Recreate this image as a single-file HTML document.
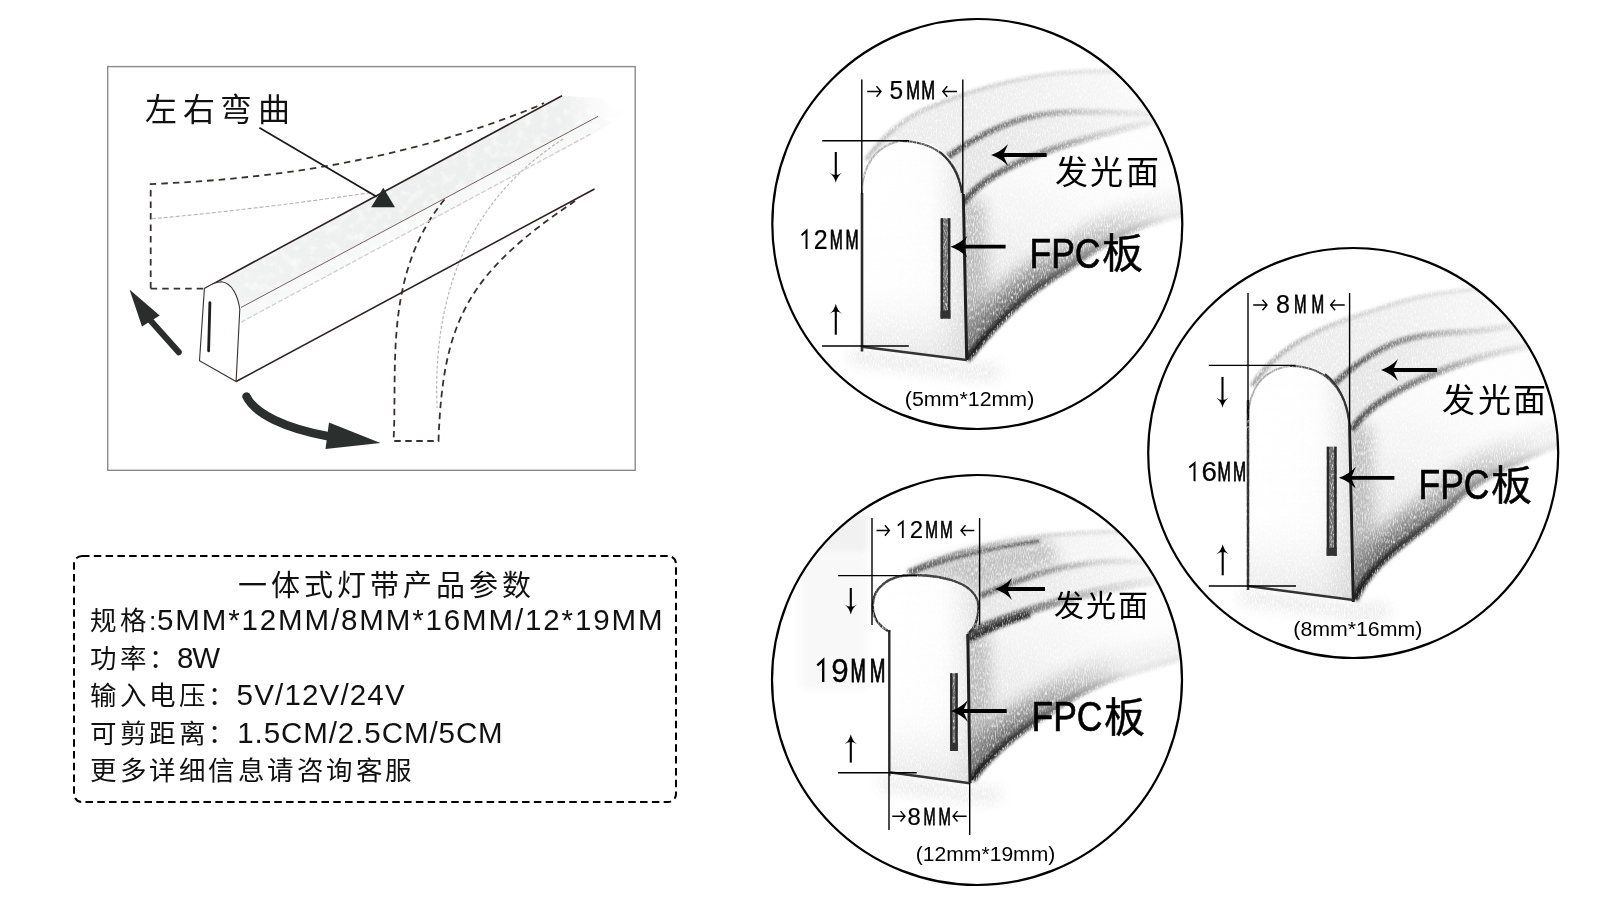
<!DOCTYPE html>
<html lang="zh-CN">
<head>
<meta charset="utf-8">
<style>
html,body{margin:0;padding:0;background:#fff;width:1600px;height:900px;overflow:hidden;}
svg{display:block;font-family:"Liberation Sans",sans-serif;will-change:transform;}
</style>
</head>
<body>
<svg width="1600" height="900" viewBox="0 0 1600 900">
<defs>
<linearGradient id="bandFade" x1="0" y1="0" x2="1" y2="0" gradientUnits="objectBoundingBox">
<stop offset="0" stop-color="#f1f2f2"/>
<stop offset="0.5" stop-color="#edefef"/>
<stop offset="0.85" stop-color="#eeefef"/>
<stop offset="1" stop-color="#f8f8f8" stop-opacity="0"/>
</linearGradient>
<filter id="pencil" filterUnits="userSpaceOnUse" x="0" y="0" width="1600" height="900">
<feTurbulence type="fractalNoise" baseFrequency="0.8 0.3" numOctaves="2" seed="7" result="n"/>
<feColorMatrix in="n" type="matrix" values="0 0 0 0 0  0 0 0 0 0  0 0 0 0 0  -2.2 0 0 0 2.0" result="a"/>
<feComposite in="SourceGraphic" in2="a" operator="in"/>
</filter>
<filter id="softpencil" filterUnits="userSpaceOnUse" x="0" y="0" width="1600" height="900">
<feGaussianBlur in="SourceGraphic" stdDeviation="1.5" result="b"/>
<feTurbulence type="fractalNoise" baseFrequency="0.8 0.3" numOctaves="2" seed="3" result="n"/>
<feColorMatrix in="n" type="matrix" values="0 0 0 0 0  0 0 0 0 0  0 0 0 0 0  -2.2 0 0 0 2.0" result="a"/>
<feComposite in="b" in2="a" operator="in"/>
</filter>
<filter id="blotch" filterUnits="userSpaceOnUse" x="0" y="0" width="1600" height="900">
<feTurbulence type="fractalNoise" baseFrequency="0.12" numOctaves="2" seed="11" result="n"/>
<feColorMatrix in="n" type="matrix" values="0 0 0 0 0  0 0 0 0 0  0 0 0 0 0  -1.6 0 0 0 1.75" result="a"/>
<feComposite in="SourceGraphic" in2="a" operator="in"/>
</filter>
<filter id="blurpencil" filterUnits="userSpaceOnUse" x="0" y="0" width="1600" height="900">
<feGaussianBlur in="SourceGraphic" stdDeviation="7" result="b"/>
<feTurbulence type="fractalNoise" baseFrequency="0.9 0.25" numOctaves="2" seed="5" result="n"/>
<feColorMatrix in="n" type="matrix" values="0 0 0 0 0  0 0 0 0 0  0 0 0 0 0  -2.4 0 0 0 2.0" result="a"/>
<feComposite in="b" in2="a" operator="in"/>
</filter>
<filter id="blur3" filterUnits="userSpaceOnUse" x="0" y="0" width="1600" height="900">
<feGaussianBlur stdDeviation="3"/>
</filter>
<filter id="gray" filterUnits="userSpaceOnUse" x="0" y="0" width="1600" height="900">
<feColorMatrix type="saturate" values="0"/>
</filter>
</defs>
<rect x="0" y="0" width="1600" height="900" fill="#fff"/>
<!-- ============ LEFT FRAME ============ -->
<g id="leftsketch">
<rect x="107.7" y="66.6" width="527.5" height="403.7" fill="none" stroke="#8a8a8a" stroke-width="1.4"/>
<text x="145" y="120.8" font-size="32" fill="#111" textLength="145" lengthAdjust="spacing">左右弯曲</text>

<!-- strip top surface light band -->
<path d="M204.4,288.6 L562,95.7 L600,98 L628,116 L598,119 L241,309 Z" fill="url(#bandFade)" filter="url(#blotch)"/>
<path d="M241,307.5 L598,116.4 L612,122 L592,135 L241,322.2 Z" fill="#f7f8f8" filter="url(#blotch)"/>
<!-- faint bend middle line (upper) -->
<path d="M152,218.7 C230,212 320,200 372,192.5" fill="none" stroke="#b9b2b2" stroke-width="1.1" stroke-dasharray="4 2"/>
<!-- dashed upper bend outline -->
<path d="M150.7,288.6 L150.7,184 C303.7,178 427.3,151.3 538.4,105.8 L544,103" fill="none" stroke="#3b3030" stroke-width="1.8" stroke-dasharray="6.5 5"/>
<path d="M150.7,288.6 L204.4,288.6" fill="none" stroke="#3b3030" stroke-width="1.8" stroke-dasharray="6.5 5"/>
<!-- dotted lower bend middle -->
<path d="M563,139 C482.9,190.9 431.9,273.9 437,408" fill="none" stroke="#bdb6b6" stroke-width="1.2" stroke-dasharray="3 2"/>
<!-- dashed lower bend outline -->
<path d="M444.5,199.5 C383.2,274.4 397.6,368.1 393.5,441 L438.5,441 C442.6,319.4 469,272.5 575,201" fill="none" stroke="#3b3030" stroke-width="1.8" stroke-dasharray="6.5 4.5"/>

<!-- strip lines -->
<path d="M204.4,288.6 L562,95.7" stroke="#2e2222" stroke-width="1.6" fill="none"/>
<path d="M241,307.5 L598,116.4" stroke="#7a6262" stroke-width="1" fill="none"/>
<path d="M241,322.2 L592,133.3" stroke="#d4cfcf" stroke-width="1.3" fill="none" stroke-dasharray="5 2"/>
<path d="M236.1,381.5 L594.5,189" stroke="#2e2222" stroke-width="1.6" fill="none"/>

<!-- end face -->
<path d="M204.4,288.6 C210,285 215,282 221.5,281.8 C232,283 238,296 239.8,309.3 L236.1,381.5 L199.5,360.7 Z" fill="#fff" stroke="#3a3030" stroke-width="1.1"/>
<path d="M209.9,302.6 L208.6,350.9" stroke="#1e1e1e" stroke-width="2.8" stroke-linecap="round"/>

<!-- pointer -->
<path d="M259.4,127.8 L376.7,196.7" stroke="#1b1b1b" stroke-width="1.8"/>
<path d="M383.3,187.8 L395,207.2 L371.1,207.2 Z" fill="#262a29"/>

<!-- up-left arrow -->
<path d="M129.5,289.5 L159.7,315.5 L142,326.5 Z" fill="#2b2d2d"/>
<path d="M150.5,320.5 L178.7,352.1" stroke="#2b2d2d" stroke-width="6.2" stroke-linecap="round"/>

<!-- curved arrow -->
<path d="M246.5,396.5 C255,414 285,428 327,436" fill="none" stroke="#2b2f2e" stroke-width="8.5" stroke-linecap="round"/>
<path d="M329,422.5 L380.5,443 L325.5,449 Z" fill="#2b2f2e"/>
</g>

<!-- ============ DASHED BOX ============ -->
<g id="box">
<rect x="74" y="556" width="602" height="246" rx="8" ry="8" fill="none" stroke="#000" stroke-width="2" stroke-dasharray="7.5 4.3"/>
<g font-size="26.5" fill="#111" letter-spacing="3.5">
<text x="238" y="596" font-size="29" textLength="292.5" lengthAdjust="spacing" letter-spacing="0">一体式灯带产品参数</text>
<text x="90" y="630">规格:</text>
<text x="157" y="630" font-size="29.5" letter-spacing="0" textLength="505.5" lengthAdjust="spacing">5MM*12MM/8MM*16MM/12*19MM</text>
<text x="90" y="667.5">功率：</text>
<text x="177" y="667.5" font-size="29.5" letter-spacing="0" textLength="43" lengthAdjust="spacing">8W</text>
<text x="90" y="705">输入电压：</text>
<text x="236.6" y="705" font-size="29.5" letter-spacing="0" textLength="168" lengthAdjust="spacing">5V/12V/24V</text>
<text x="90" y="742.5">可剪距离：</text>
<text x="237.2" y="742.5" font-size="29.5" letter-spacing="0" textLength="265.5" lengthAdjust="spacing">1.5CM/2.5CM/5CM</text>
<text x="90" y="779.5">更多详细信息请咨询客服</text>
</g>
</g>

<!-- ============ CIRCLES ============ -->
<clipPath id="clip1"><circle cx="977.3" cy="224" r="204"/></clipPath>
<radialGradient id="side1" cx="966.7" cy="360" r="230" gradientUnits="userSpaceOnUse"><stop offset="0" stop-color="#8c8c8c"/><stop offset="0.3" stop-color="#bdbdbd"/><stop offset="0.65" stop-color="#e2e2e2"/><stop offset="1" stop-color="#fafafa"/></radialGradient>
<linearGradient id="edge1" x1="966.7" y1="360" x2="1165" y2="215" gradientUnits="userSpaceOnUse"><stop offset="0" stop-color="#1a1a1a"/><stop offset="0.4" stop-color="#4a4a4a"/><stop offset="0.75" stop-color="#a8a8a8"/><stop offset="1" stop-color="#e8e8e8"/></linearGradient>
<linearGradient id="arc1" x1="963" y1="203" x2="1165" y2="120" gradientUnits="userSpaceOnUse"><stop offset="0" stop-color="#505050"/><stop offset="0.4" stop-color="#8a8a8a"/><stop offset="0.7" stop-color="#cfcfcf"/><stop offset="1" stop-color="#f0f0f0"/></linearGradient>
<linearGradient id="facev1" x1="0" y1="0" x2="0" y2="1"><stop offset="0" stop-color="#fff" stop-opacity="0"/><stop offset="0.65" stop-color="#e8e8e8" stop-opacity="0.05"/><stop offset="1" stop-color="#cccccc" stop-opacity="0.5"/></linearGradient>
<linearGradient id="faceh1" x1="0" y1="0" x2="1" y2="0"><stop offset="0" stop-color="#fff" stop-opacity="0"/><stop offset="0.65" stop-color="#e0e0e0" stop-opacity="0.08"/><stop offset="1" stop-color="#c8c8c8" stop-opacity="0.6"/></linearGradient>
<linearGradient id="fadeR1" x1="963" y1="0" x2="1182.3" y2="0" gradientUnits="userSpaceOnUse"><stop offset="0" stop-color="#e4e4e4"/><stop offset="0.5" stop-color="#eeeeee"/><stop offset="1" stop-color="#fbfbfb"/></linearGradient>
<linearGradient id="fadeR21" x1="963" y1="0" x2="1182.3" y2="0" gradientUnits="userSpaceOnUse"><stop offset="0" stop-color="#ececec"/><stop offset="0.5" stop-color="#f3f3f3"/><stop offset="1" stop-color="#fdfdfd"/></linearGradient>
<g clip-path="url(#clip1)">
<path d="M870,151 C926.9,92.8 1012.4,75.2 1083,71.6 C1120,70 1160,72 1190,76 L1190,114 L1160.7,114 C1074.3,113.1 1028.8,98.7 947.5,157 Z" fill="url(#fadeR21)" filter="url(#pencil)"/>
<path d="M947.5,157 C1028.8,98.7 1074.3,113.1 1160.7,114 L1190,114 L1190,118 L1151,122 C1084.8,137.6 992.3,160.7 963,203.4 Z" fill="url(#fadeR1)" filter="url(#pencil)"/>
<clipPath id="sideclip1"><path d="M963,203.4 C992.3,160.7 1084.8,137.6 1151,122 L1190,118 L1190,212 L1170,216.7 C1134.2,225.2 1099.4,244 1068.3,267.4 C1028.2,289.8 994.1,324.2 966.5,359.9 Z"/></clipPath>
<path d="M963,203.4 C992.3,160.7 1084.8,137.6 1151,122 L1190,118 L1190,212 L1170,216.7 C1134.2,225.2 1099.4,244 1068.3,267.4 C1028.2,289.8 994.1,324.2 966.5,359.9 Z" fill="url(#side1)" opacity="0.4" filter="url(#pencil)"/>
<g clip-path="url(#sideclip1)">
<path d="M966.5,359.9 C994.1,324.2 1028.2,289.8 1068.3,267.4 C1099.4,244 1134.2,225.2 1170,216.7 L1190,212" fill="none" stroke="url(#edge1)" stroke-width="52" opacity="0.42" filter="url(#blurpencil)"/>
<path d="M966.5,359.9 C994.1,324.2 1028.2,289.8 1068.3,267.4 C1099.4,244 1134.2,225.2 1170,216.7 L1190,212" fill="none" stroke="url(#edge1)" stroke-width="26" opacity="0.5" filter="url(#blurpencil)"/>
<path d="M963,200 L966.7,360" fill="none" stroke="#8a8a8a" stroke-width="44" opacity="0.5" filter="url(#blurpencil)"/>
</g>
<linearGradient id="arcA1" x1="866" y1="160" x2="1180" y2="74" gradientUnits="userSpaceOnUse"><stop offset="0" stop-color="#bdbdbd"/><stop offset="0.35" stop-color="#d0d0d0"/><stop offset="1" stop-color="#eeeeee"/></linearGradient>
<path d="M866,160 C880,140 900,120 928,108 C980,86 1030,74 1083,71.6 C1120,70 1150,71 1180,74" fill="none" stroke="url(#arcA1)" stroke-width="4.5" filter="url(#softpencil)"/>
<path d="M947.5,157 C1028.8,98.7 1074.3,113.1 1160.7,114 L1190,114" fill="none" stroke="url(#arc1)" stroke-width="6" filter="url(#softpencil)"/>
<path d="M963,203.4 C992.3,160.7 1084.8,137.6 1151,122 L1190,116" fill="none" stroke="url(#arc1)" stroke-width="7" filter="url(#softpencil)"/>
<path d="M963,203.4 C992.3,160.7 1084.8,137.6 1151,122 L1190,116" fill="none" stroke="url(#arc1)" stroke-width="1.2" opacity="0.8"/>
<path d="M966.5,359.9 C994.1,324.2 1028.2,289.8 1068.3,267.4 C1099.4,244 1134.2,225.2 1170,216.7 L1190,212" fill="none" stroke="url(#edge1)" stroke-width="8" filter="url(#softpencil)"/>
<path d="M966.5,359.9 C994.1,324.2 1028.2,289.8 1068.3,267.4 C1099.4,244 1134.2,225.2 1170,216.7 L1190,212" fill="none" stroke="url(#edge1)" stroke-width="1.8"/>
<path d="M850,356 L970,372 L1000,372" fill="none" stroke="#dcdcdc" stroke-width="16" opacity="0.6" filter="url(#blurpencil)"/>
<path d="M862,193 C862,160 884,141 912,141 C940,141 961,162 963,193 L966.7,360 L862,347 Z" fill="#fff"/>
<path d="M862,193 C862,160 884,141 912,141 C940,141 961,162 963,193 L966.7,360 L862,347 Z" fill="url(#facev1)" filter="url(#pencil)"/>
<path d="M862,193 C862,160 884,141 912,141 C940,141 961,162 963,193 L966.7,360 L862,347 Z" fill="url(#faceh1)" filter="url(#pencil)"/>
<path d="M862,193 C862,166 876,146 898,141.5" fill="none" stroke="#b0b0b0" stroke-width="2" filter="url(#pencil)"/>
<path d="M900,141 C935,141 958,160 962,193" fill="none" stroke="#4a4a4a" stroke-width="2.2" filter="url(#pencil)"/>
<path d="M940,152 C952,162 959,175 962,193" fill="none" stroke="#333" stroke-width="2"/>
<path d="M862,193 L862,351.6" stroke="#2a2a2a" stroke-width="2.6"/>
<path d="M963.3,194 L966.7,360" stroke="#1e1e1e" stroke-width="3"/>
<path d="M862,346.7 L966.7,360" stroke="#333" stroke-width="2.4"/>
<rect x="940.6" y="218.3" width="9.8" height="100.3" fill="#6e6e6e" filter="url(#pencil)"/>
<path d="M941.9,218.3 L941.9,318.6 M949.1,218.3 L949.1,318.6" stroke="#2a2a2a" stroke-width="2.4"/>
<path d="M940.6,314.6 L950.4,314.6" stroke="#333" stroke-width="8.0"/>
</g>
<g stroke="#000" stroke-width="1.4" fill="none">
<path d="M861.8,79.6 L861.8,194"/>
<path d="M962.8,79.6 L962.8,194.4"/>
<path d="M822.2,140.8 L908.9,140.8"/>
<path d="M822,346 L908.8,346"/>
<path d="M867.2,91.5 L881.0,91.5 M876.5,86.3 L881.0,91.5 L876.5,96.7"/>
<path d="M942.8,91.5 L957.0,91.5 M947.3,86.3 L942.8,91.5 L947.3,96.7"/>
<path d="M835.8,152.0 L835.8,178.8" stroke-width="2.1"/><path d="M829.7,172.8 Q834.3,176.3 835.8,182.8 Q837.3,176.3 841.9,172.8 Q835.8,177.3 829.7,172.8 Z" fill="#000" stroke="none"/>
<path d="M835.8,307.7 L835.8,334.7" stroke-width="2.1"/><path d="M829.7,313.7 Q834.3,310.2 835.8,303.7 Q837.3,310.2 841.9,313.7 Q835.8,309.2 829.7,313.7 Z" fill="#000" stroke="none"/>
</g>
<g fill="#000">
<text transform="translate(896.25,99.00) scale(0.931,1)" font-size="26.38" text-anchor="middle" stroke="#000" stroke-width="0.22">5</text>
<text transform="translate(913.12,99.00) scale(0.626,1)" font-size="26.38" text-anchor="middle" stroke="#000" stroke-width="0.81">M</text>
<text transform="translate(928.24,99.00) scale(0.629,1)" font-size="26.38" text-anchor="middle" stroke="#000" stroke-width="0.80">M</text>
<path d="M801.59,235.31 L806.52,230.84 L806.52,249.00" fill="none" stroke="#000" stroke-width="1.97" stroke-linejoin="miter"/>
<text transform="translate(820.75,249.00) scale(0.920,1)" font-size="27.17" text-anchor="middle" stroke="#000" stroke-width="0.23">2</text>
<text transform="translate(836.28,249.00) scale(0.577,1)" font-size="27.17" text-anchor="middle" stroke="#000" stroke-width="0.90">M</text>
<text transform="translate(852.03,249.00) scale(0.577,1)" font-size="27.17" text-anchor="middle" stroke="#000" stroke-width="0.90">M</text>
<text x="1054.5" y="184.2" font-size="33" textLength="104.5" lengthAdjust="spacing">发光面</text>
<text x="1029.5" y="267.7" font-size="43" textLength="71" lengthAdjust="spacingAndGlyphs" stroke="#000" stroke-width="0.7">FPC</text>
<text x="1101.5" y="268" font-size="41" stroke="#000" stroke-width="0.5">板</text>
<text x="904.8" y="405.5" font-size="20" textLength="129.5" lengthAdjust="spacingAndGlyphs">(5mm*12mm)</text>
</g>
<path d="M991.1,155.0 Q1001.1,151.5 1008.1,144.0 L1004.1,153.1 L1046.7,153.1 L1046.7,156.9 L1004.1,156.9 L1008.1,166.0 Q1001.1,158.5 991.1,155.0 Z" fill="#000"/>
<path d="M950.4,246.7 Q960.4,243.2 967.4,235.7 L963.4,244.8 L1005.6,244.8 L1005.6,248.6 L963.4,248.6 L967.4,257.7 Q960.4,250.2 950.4,246.7 Z" fill="#000"/>
<circle cx="977.3" cy="224" r="205" fill="none" stroke="#000" stroke-width="2.2"/>
<clipPath id="clip2"><circle cx="1353.2" cy="453" r="204"/></clipPath>
<radialGradient id="side2" cx="1353.3" cy="597.8" r="240" gradientUnits="userSpaceOnUse"><stop offset="0" stop-color="#8c8c8c"/><stop offset="0.3" stop-color="#bdbdbd"/><stop offset="0.65" stop-color="#e2e2e2"/><stop offset="1" stop-color="#fafafa"/></radialGradient>
<linearGradient id="edge2" x1="1353.3" y1="597.8" x2="1545" y2="450" gradientUnits="userSpaceOnUse"><stop offset="0" stop-color="#1a1a1a"/><stop offset="0.4" stop-color="#4a4a4a"/><stop offset="0.75" stop-color="#a8a8a8"/><stop offset="1" stop-color="#e8e8e8"/></linearGradient>
<linearGradient id="arc2" x1="1352" y1="430" x2="1545" y2="340" gradientUnits="userSpaceOnUse"><stop offset="0" stop-color="#505050"/><stop offset="0.4" stop-color="#8a8a8a"/><stop offset="0.7" stop-color="#cfcfcf"/><stop offset="1" stop-color="#f0f0f0"/></linearGradient>
<linearGradient id="facev2" x1="0" y1="0" x2="0" y2="1"><stop offset="0" stop-color="#fff" stop-opacity="0"/><stop offset="0.65" stop-color="#e8e8e8" stop-opacity="0.05"/><stop offset="1" stop-color="#cccccc" stop-opacity="0.5"/></linearGradient>
<linearGradient id="faceh2" x1="0" y1="0" x2="1" y2="0"><stop offset="0" stop-color="#fff" stop-opacity="0"/><stop offset="0.65" stop-color="#e0e0e0" stop-opacity="0.08"/><stop offset="1" stop-color="#c8c8c8" stop-opacity="0.6"/></linearGradient>
<linearGradient id="fadeR2" x1="1352" y1="0" x2="1558.2" y2="0" gradientUnits="userSpaceOnUse"><stop offset="0" stop-color="#e4e4e4"/><stop offset="0.5" stop-color="#eeeeee"/><stop offset="1" stop-color="#fbfbfb"/></linearGradient>
<linearGradient id="fadeR22" x1="1352" y1="0" x2="1558.2" y2="0" gradientUnits="userSpaceOnUse"><stop offset="0" stop-color="#ececec"/><stop offset="0.5" stop-color="#f3f3f3"/><stop offset="1" stop-color="#fdfdfd"/></linearGradient>
<g clip-path="url(#clip2)">
<path d="M1252,386 C1283.4,335.1 1345.4,319.3 1400,302 C1440,290 1500,285 1570,288 L1570,322 L1510,326 C1442.5,340.6 1404.5,317.7 1334,384 Z" fill="url(#fadeR22)" filter="url(#pencil)"/>
<path d="M1334,384 C1404.5,317.7 1442.5,340.6 1510,326 L1570,322 L1570,340 L1530,346 C1466.1,356.5 1375.1,390.8 1352,430 Z" fill="url(#fadeR2)" filter="url(#pencil)"/>
<clipPath id="sideclip2"><path d="M1352,430 C1375.1,390.8 1466.1,356.5 1530,346 L1570,340 L1570,440 L1546,449 C1512,463.9 1473.9,478.8 1451,504.5 C1411.8,539.3 1372.2,558.8 1354.3,599.9 Z"/></clipPath>
<path d="M1352,430 C1375.1,390.8 1466.1,356.5 1530,346 L1570,340 L1570,440 L1546,449 C1512,463.9 1473.9,478.8 1451,504.5 C1411.8,539.3 1372.2,558.8 1354.3,599.9 Z" fill="url(#side2)" opacity="0.4" filter="url(#pencil)"/>
<g clip-path="url(#sideclip2)">
<path d="M1354.3,599.9 C1372.2,558.8 1411.8,539.3 1451,504.5 C1473.9,478.8 1512,463.9 1546,449 L1570,440" fill="none" stroke="url(#edge2)" stroke-width="52" opacity="0.42" filter="url(#blurpencil)"/>
<path d="M1354.3,599.9 C1372.2,558.8 1411.8,539.3 1451,504.5 C1473.9,478.8 1512,463.9 1546,449 L1570,440" fill="none" stroke="url(#edge2)" stroke-width="26" opacity="0.5" filter="url(#blurpencil)"/>
<path d="M1349.6,425 L1353.3,600" fill="none" stroke="#8a8a8a" stroke-width="44" opacity="0.5" filter="url(#blurpencil)"/>
</g>
<linearGradient id="arcA2" x1="1252" y1="386" x2="1560" y2="288" gradientUnits="userSpaceOnUse"><stop offset="0" stop-color="#a0a0a0"/><stop offset="0.35" stop-color="#d0d0d0"/><stop offset="1" stop-color="#eeeeee"/></linearGradient>
<path d="M1252,386 C1283.4,335.1 1345.4,319.3 1400,302 C1440,290 1500,285 1560,288" fill="none" stroke="url(#arcA2)" stroke-width="4.5" filter="url(#softpencil)"/>
<path d="M1334,384 C1404.5,317.7 1442.5,340.6 1510,326 L1570,320" fill="none" stroke="url(#arc2)" stroke-width="6" filter="url(#softpencil)"/>
<path d="M1352,430 C1375.1,390.8 1466.1,356.5 1530,346 L1570,340" fill="none" stroke="url(#arc2)" stroke-width="7" filter="url(#softpencil)"/>
<path d="M1352,430 C1375.1,390.8 1466.1,356.5 1530,346 L1570,340" fill="none" stroke="url(#arc2)" stroke-width="1.2" opacity="0.8"/>
<path d="M1354.3,599.9 C1372.2,558.8 1411.8,539.3 1451,504.5 C1473.9,478.8 1512,463.9 1546,449 L1570,440" fill="none" stroke="url(#edge2)" stroke-width="8" filter="url(#softpencil)"/>
<path d="M1354.3,599.9 C1372.2,558.8 1411.8,539.3 1451,504.5 C1473.9,478.8 1512,463.9 1546,449 L1570,440" fill="none" stroke="url(#edge2)" stroke-width="1.8"/>
<path d="M1240,596 L1356,612 L1390,612" fill="none" stroke="#dcdcdc" stroke-width="16" opacity="0.6" filter="url(#blurpencil)"/>
<path d="M1248,420 C1248,385 1268,366 1298,366 C1328,366 1348,388 1349.6,425 L1353.3,600 L1248,586 Z" fill="#fff"/>
<path d="M1248,420 C1248,385 1268,366 1298,366 C1328,366 1348,388 1349.6,425 L1353.3,600 L1248,586 Z" fill="url(#facev2)" filter="url(#pencil)"/>
<path d="M1248,420 C1248,385 1268,366 1298,366 C1328,366 1348,388 1349.6,425 L1353.3,600 L1248,586 Z" fill="url(#faceh2)" filter="url(#pencil)"/>
<path d="M1248,420 C1248,390 1262,370 1290,366" fill="none" stroke="#a8a8a8" stroke-width="2" filter="url(#pencil)"/>
<path d="M1290,366 C1325,366 1346,388 1349.6,425" fill="none" stroke="#4a4a4a" stroke-width="2.2" filter="url(#pencil)"/>
<path d="M1325,374 C1338,384 1347,400 1349.6,425" fill="none" stroke="#333" stroke-width="2"/>
<path d="M1248,400 L1248,590" stroke="#2a2a2a" stroke-width="2.6" filter="url(#pencil)"/>
<path d="M1248,430 L1248,590" stroke="#333" stroke-width="1.6"/>
<path d="M1349.6,425 L1353.3,602" stroke="#1e1e1e" stroke-width="3"/>
<path d="M1248,586 L1353.3,600" stroke="#333" stroke-width="2.4"/>
<rect x="1326.7" y="446.7" width="10" height="109" fill="#6e6e6e" filter="url(#pencil)"/>
<path d="M1328.0,446.7 L1328.0,555.7 M1335.4,446.7 L1335.4,555.7" stroke="#2a2a2a" stroke-width="2.4"/>
<path d="M1326.7,551.7 L1336.7,551.7" stroke="#333" stroke-width="8.0"/>
</g>
<g stroke="#000" stroke-width="1.4" fill="none">
<path d="M1248,293 L1248,420"/>
<path d="M1349.6,293 L1349.6,425"/>
<path d="M1208.8,365.4 L1295.6,365.4"/>
<path d="M1208.8,586 L1296,586"/>
<path d="M1253.2,305.0 L1267.0,305.0 M1262.5,299.8 L1267.0,305.0 L1262.5,310.2"/>
<path d="M1330.6,305.0 L1344.7,305.0 M1335.1,299.8 L1330.6,305.0 L1335.1,310.2"/>
<path d="M1222.5,376.9 L1222.5,403.8" stroke-width="2.1"/><path d="M1216.4,397.8 Q1221.0,401.3 1222.5,407.8 Q1224.0,401.3 1228.6,397.8 Q1222.5,402.3 1216.4,397.8 Z" fill="#000" stroke="none"/>
<path d="M1222.7,548.3 L1222.7,575.3" stroke-width="2.1"/><path d="M1216.6,554.3 Q1221.2,550.8 1222.7,544.3 Q1224.2,550.8 1228.8,554.3 Q1222.7,549.8 1216.6,554.3 Z" fill="#000" stroke="none"/>
</g>
<g fill="#000">
<text transform="translate(1283.08,312.90) scale(0.979,1)" font-size="25.65" text-anchor="middle" stroke="#000" stroke-width="0.20">8</text>
<text transform="translate(1300.30,312.90) scale(0.585,1)" font-size="25.65" text-anchor="middle" stroke="#000" stroke-width="0.84">M</text>
<text transform="translate(1317.85,312.90) scale(0.591,1)" font-size="25.65" text-anchor="middle" stroke="#000" stroke-width="0.83">M</text>
<path d="M1189.34,467.56 L1194.52,463.09 L1194.52,481.25" fill="none" stroke="#000" stroke-width="1.97" stroke-linejoin="miter"/>
<text transform="translate(1209.14,481.25) scale(1.022,1)" font-size="27.17" text-anchor="middle" stroke="#000" stroke-width="0.20">6</text>
<text transform="translate(1224.16,481.25) scale(0.591,1)" font-size="27.17" text-anchor="middle" stroke="#000" stroke-width="0.88">M</text>
<text transform="translate(1239.53,481.25) scale(0.577,1)" font-size="27.17" text-anchor="middle" stroke="#000" stroke-width="0.90">M</text>
<text x="1442" y="412" font-size="33" textLength="104" lengthAdjust="spacing">发光面</text>
<text x="1418.5" y="498.9" font-size="43" textLength="71" lengthAdjust="spacingAndGlyphs" stroke="#000" stroke-width="0.7">FPC</text>
<text x="1490.5" y="499.5" font-size="41" stroke="#000" stroke-width="0.5">板</text>
<text x="1293.3" y="635.5" font-size="20" textLength="129" lengthAdjust="spacingAndGlyphs">(8mm*16mm)</text>
</g>
<path d="M1381.0,370.0 Q1391.0,366.5 1398.0,359.0 L1394.0,368.1 L1437.0,368.1 L1437.0,371.9 L1394.0,371.9 L1398.0,381.0 Q1391.0,373.5 1381.0,370.0 Z" fill="#000"/>
<path d="M1338.9,477.8 Q1348.9,474.3 1355.9,466.8 L1351.9,475.9 L1394.4,475.9 L1394.4,479.7 L1351.9,479.7 L1355.9,488.8 Q1348.9,481.3 1338.9,477.8 Z" fill="#000"/>
<circle cx="1353.2" cy="453" r="205" fill="none" stroke="#000" stroke-width="2.2"/>
<clipPath id="clip3"><circle cx="977" cy="680" r="204"/></clipPath>
<radialGradient id="side3" cx="971" cy="782" r="230" gradientUnits="userSpaceOnUse"><stop offset="0" stop-color="#8c8c8c"/><stop offset="0.3" stop-color="#bdbdbd"/><stop offset="0.65" stop-color="#e2e2e2"/><stop offset="1" stop-color="#fafafa"/></radialGradient>
<linearGradient id="edge3" x1="971" y1="782" x2="1130" y2="672" gradientUnits="userSpaceOnUse"><stop offset="0" stop-color="#1a1a1a"/><stop offset="0.4" stop-color="#4a4a4a"/><stop offset="0.75" stop-color="#a8a8a8"/><stop offset="1" stop-color="#e8e8e8"/></linearGradient>
<linearGradient id="arc3" x1="968" y1="634" x2="1160" y2="580" gradientUnits="userSpaceOnUse"><stop offset="0" stop-color="#505050"/><stop offset="0.4" stop-color="#8a8a8a"/><stop offset="0.7" stop-color="#cfcfcf"/><stop offset="1" stop-color="#f0f0f0"/></linearGradient>
<linearGradient id="facev3" x1="0" y1="0" x2="0" y2="1"><stop offset="0" stop-color="#fff" stop-opacity="0"/><stop offset="0.65" stop-color="#e8e8e8" stop-opacity="0.05"/><stop offset="1" stop-color="#cccccc" stop-opacity="0.5"/></linearGradient>
<linearGradient id="faceh3" x1="0" y1="0" x2="1" y2="0"><stop offset="0" stop-color="#fff" stop-opacity="0"/><stop offset="0.65" stop-color="#e0e0e0" stop-opacity="0.08"/><stop offset="1" stop-color="#c8c8c8" stop-opacity="0.6"/></linearGradient>
<linearGradient id="fadeR3" x1="968" y1="0" x2="1182" y2="0" gradientUnits="userSpaceOnUse"><stop offset="0" stop-color="#e4e4e4"/><stop offset="0.5" stop-color="#eeeeee"/><stop offset="1" stop-color="#fbfbfb"/></linearGradient>
<linearGradient id="fadeR23" x1="968" y1="0" x2="1182" y2="0" gradientUnits="userSpaceOnUse"><stop offset="0" stop-color="#ececec"/><stop offset="0.5" stop-color="#f3f3f3"/><stop offset="1" stop-color="#fdfdfd"/></linearGradient>
<g clip-path="url(#clip3)">
<path d="M812,512 L868,512 L868,552 L812,552 Z" fill="#eeeeee" filter="url(#blur3)" opacity="0.8"/>
<path d="M800,552 L868,552 L868,690 L800,690 Z" fill="#f4f4f4" filter="url(#blur3)" opacity="0.6"/>
<path d="M908,572 C972,542.7 1035.5,534.4 1100,532 L1190,530 L1190,562 L1140,562 C1075.8,556.9 1024.7,576.7 980,596 Z" fill="url(#fadeR23)" filter="url(#pencil)"/>
<path d="M980,596 C1024.7,576.7 1075.8,556.9 1140,562 L1190,562 L1190,578 L1148,582 C1110.2,585.4 1012.4,612.6 968,634 Z" fill="url(#fadeR3)" filter="url(#pencil)"/>
<clipPath id="sideclip3"><path d="M968,634 C1012.4,612.6 1110.2,585.4 1148,582 L1190,578 L1190,655 L1123.6,674.8 C1088.6,683.2 1003.6,733.6 971.6,779.9 Z"/></clipPath>
<path d="M968,634 C1012.4,612.6 1110.2,585.4 1148,582 L1190,578 L1190,655 L1123.6,674.8 C1088.6,683.2 1003.6,733.6 971.6,779.9 Z" fill="url(#side3)" opacity="0.4" filter="url(#pencil)"/>
<g clip-path="url(#sideclip3)">
<path d="M971.6,779.9 C1003.6,733.6 1088.6,683.2 1123.6,674.8 L1190,655" fill="none" stroke="url(#edge3)" stroke-width="52" opacity="0.42" filter="url(#blurpencil)"/>
<path d="M971.6,779.9 C1003.6,733.6 1088.6,683.2 1123.6,674.8 L1190,655" fill="none" stroke="url(#edge3)" stroke-width="26" opacity="0.5" filter="url(#blurpencil)"/>
<path d="M968,634 L970,783" fill="none" stroke="#8a8a8a" stroke-width="44" opacity="0.5" filter="url(#blurpencil)"/>
</g>
<linearGradient id="arcA3" x1="908" y1="572" x2="1190" y2="530" gradientUnits="userSpaceOnUse"><stop offset="0" stop-color="#555555"/><stop offset="0.35" stop-color="#d0d0d0"/><stop offset="1" stop-color="#eeeeee"/></linearGradient>
<path d="M908,572 C972,542.7 1035.5,534.4 1100,532 L1190,530" fill="none" stroke="url(#arcA3)" stroke-width="4.5" filter="url(#softpencil)"/>
<path d="M980,596 C1024.7,576.7 1075.8,556.9 1140,562 L1190,562" fill="none" stroke="url(#arc3)" stroke-width="6" filter="url(#softpencil)"/>
<path d="M968,634 C1012.4,612.6 1110.2,585.4 1148,582 L1190,578" fill="none" stroke="url(#arc3)" stroke-width="9" filter="url(#softpencil)"/>
<path d="M968,634 C1012.4,612.6 1110.2,585.4 1148,582 L1190,578" fill="none" stroke="url(#arc3)" stroke-width="1.2" opacity="0.8"/>
<path d="M971.6,779.9 C1003.6,733.6 1088.6,683.2 1123.6,674.8 L1190,655" fill="none" stroke="url(#edge3)" stroke-width="8" filter="url(#softpencil)"/>
<path d="M971.6,779.9 C1003.6,733.6 1088.6,683.2 1123.6,674.8 L1190,655" fill="none" stroke="url(#edge3)" stroke-width="1.8"/>
<path d="M905,574 C950,555 1000,545 1050,540 L1060,566 C1020,572 1000,582 980,596 C970,585 950,576 905,574 Z" fill="#9a9a9a" opacity="0.55" filter="url(#blurpencil)"/>
<path d="M912,573 C950,557 990,548 1040,541" fill="none" stroke="#444" stroke-width="3" filter="url(#softpencil)"/>
<path d="M880,782 L972,795 L1000,795" fill="none" stroke="#dcdcdc" stroke-width="16" opacity="0.6" filter="url(#blurpencil)"/>
<path d="M890,632 C878,626 872.5,617 872.8,605 C873,587 890,575 912,575 C948,575 978,585 978.5,607 C978.5,620 974,629 968,634 L970,783.3 L889.3,772.2 Z" fill="#fff"/>
<path d="M890,632 C878,626 872.5,617 872.8,605 C873,587 890,575 912,575 C948,575 978,585 978.5,607 C978.5,620 974,629 968,634 L970,783.3 L889.3,772.2 Z" fill="url(#facev3)" filter="url(#pencil)"/>
<path d="M890,632 C878,626 872.5,617 872.8,605 C873,587 890,575 912,575 C948,575 978,585 978.5,607 C978.5,620 974,629 968,634 L970,783.3 L889.3,772.2 Z" fill="url(#faceh3)" filter="url(#pencil)"/>
<path d="M890,632 C878,626 872.5,617 872.8,605 C873,587 890,575 912,575 C948,575 978,585 978.5,607 C978.5,620 974,629 968,634" fill="none" stroke="#333" stroke-width="2.4" filter="url(#pencil)"/>
<path d="M872.8,605 C873,587 890,575 912,575 C948,575 978,585 978.5,607" fill="none" stroke="#444" stroke-width="1.3"/>
<path d="M889.3,630 L889.3,776" stroke="#2a2a2a" stroke-width="2.4"/>
<path d="M967.8,634 L970,783.3" stroke="#1e1e1e" stroke-width="3"/>
<path d="M889.3,772.2 L970,783.3" stroke="#333" stroke-width="2.4"/>
<path d="M968,640 C990,628 1010,620 1030,614" fill="none" stroke="#333" stroke-width="7" filter="url(#softpencil)"/>
<rect x="950" y="673.3" width="7.8" height="77.7" fill="#6e6e6e" filter="url(#pencil)"/>
<path d="M951.3,673.3 L951.3,751.0 M956.5,673.3 L956.5,751.0" stroke="#2a2a2a" stroke-width="2.4"/>
<path d="M950.0,747.0 L957.8,747.0" stroke="#333" stroke-width="8.0"/>
</g>
<g stroke="#000" stroke-width="1.4" fill="none">
<path d="M872,518 L872,625"/>
<path d="M979.6,518 L979.6,625"/>
<path d="M838,575.6 L917,575.6"/>
<path d="M838,772.7 L916.7,772.7"/>
<path d="M889,776 L889,830"/>
<path d="M969.7,783 L969.7,835"/>
<path d="M876.5,530.5 L889.4,530.5 M884.9,525.3 L889.4,530.5 L884.9,535.7"/>
<path d="M961.0,530.5 L974.3,530.5 M965.5,525.3 L961.0,530.5 L965.5,535.7"/>
<path d="M850.8,588.0 L850.8,610.5" stroke-width="2.1"/><path d="M844.7,604.5 Q849.3,608.0 850.8,614.5 Q852.3,608.0 856.9,604.5 Q850.8,609.0 844.7,604.5 Z" fill="#000" stroke="none"/>
<path d="M850.8,738.2 L850.8,762.6" stroke-width="2.1"/><path d="M844.7,744.2 Q849.3,740.7 850.8,734.2 Q852.3,740.7 856.9,744.2 Q850.8,739.7 844.7,744.2 Z" fill="#000" stroke="none"/>
<path d="M892.3,816.3 L905.0,816.3 M900.5,811.1 L905.0,816.3 L900.5,821.5"/>
<path d="M953.0,816.3 L966.6,816.3 M957.5,811.1 L953.0,816.3 L957.5,821.5"/>
</g>
<g fill="#000">
<path d="M897.83,525.66 L902.81,521.63 L902.81,538.00" fill="none" stroke="#000" stroke-width="1.77" stroke-linejoin="miter"/>
<text transform="translate(916.52,538.00) scale(0.980,1)" font-size="24.49" text-anchor="middle" stroke="#000" stroke-width="0.19">2</text>
<text transform="translate(931.70,538.00) scale(0.625,1)" font-size="24.49" text-anchor="middle" stroke="#000" stroke-width="0.75">M</text>
<text transform="translate(946.40,538.00) scale(0.625,1)" font-size="24.49" text-anchor="middle" stroke="#000" stroke-width="0.75">M</text>
<path d="M817.31,665.40 L823.21,660.01 L823.21,681.90" fill="none" stroke="#000" stroke-width="2.37" stroke-linejoin="miter"/>
<text transform="translate(840.01,681.90) scale(0.957,1)" font-size="32.75" text-anchor="middle" stroke="#000" stroke-width="0.26">9</text>
<text transform="translate(858.13,681.90) scale(0.560,1)" font-size="32.75" text-anchor="middle" stroke="#000" stroke-width="1.12">M</text>
<text transform="translate(877.69,681.90) scale(0.574,1)" font-size="32.75" text-anchor="middle" stroke="#000" stroke-width="1.09">M</text>
<text transform="translate(914.07,824.90) scale(0.965,1)" font-size="24.64" text-anchor="middle" stroke="#000" stroke-width="0.20">8</text>
<text transform="translate(929.45,824.90) scale(0.590,1)" font-size="24.64" text-anchor="middle" stroke="#000" stroke-width="0.80">M</text>
<text transform="translate(944.75,824.90) scale(0.603,1)" font-size="24.64" text-anchor="middle" stroke="#000" stroke-width="0.78">M</text>
<text x="1053.5" y="615.6" font-size="30" textLength="94" lengthAdjust="spacing">发光面</text>
<text x="1031.5" y="731" font-size="43" textLength="71" lengthAdjust="spacingAndGlyphs" stroke="#000" stroke-width="0.7">FPC</text>
<text x="1103.5" y="732" font-size="41" stroke="#000" stroke-width="0.5">板</text>
<text x="915.8" y="860.8" font-size="20" textLength="139.5" lengthAdjust="spacingAndGlyphs">(12mm*19mm)</text>
</g>
<path d="M995.0,589.0 Q1005.0,585.5 1012.0,578.0 L1008.0,587.1 L1045.0,587.1 L1045.0,590.9 L1008.0,590.9 L1012.0,600.0 Q1005.0,592.5 995.0,589.0 Z" fill="#000"/>
<path d="M951.0,711.0 Q961.0,707.5 968.0,700.0 L964.0,709.1 L1006.7,709.1 L1006.7,712.9 L964.0,712.9 L968.0,722.0 Q961.0,714.5 951.0,711.0 Z" fill="#000"/>
<circle cx="977" cy="680" r="205" fill="none" stroke="#000" stroke-width="2.2"/>
</svg>
</body>
</html>
